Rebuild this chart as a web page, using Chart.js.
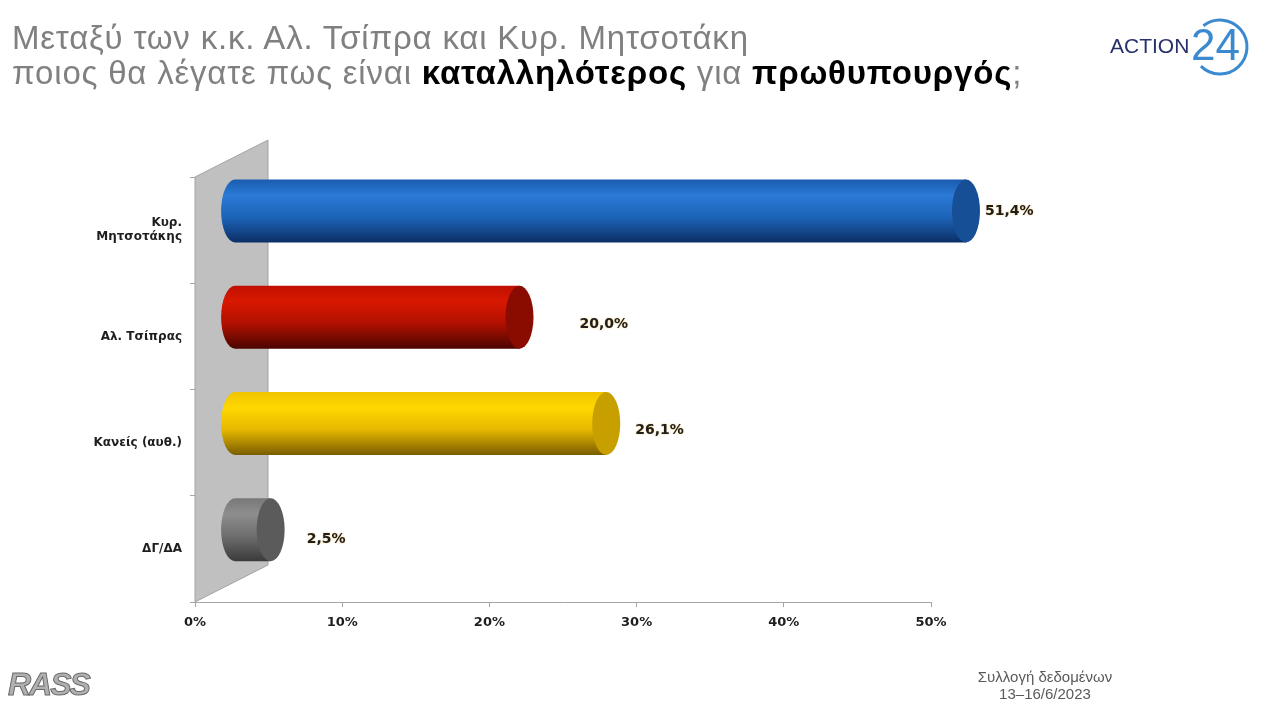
<!DOCTYPE html>
<html>
<head>
<meta charset="utf-8">
<script src="https://cdn.jsdelivr.net/npm/chart.js@4.4.1/dist/chart.umd.min.js"></script>
<style>
  html, body { margin: 0; padding: 0; background: #fff; }
  #wrap { position: relative; width: 1270px; height: 711px; overflow: hidden; }
  #chart { position: absolute; left: 0; top: 0; }
  #title { position: absolute; left: 12px; top: 20px; font-family: 'Liberation Sans', sans-serif;
           font-size: 33px; line-height: 35px; letter-spacing: 0.8px; color: #808080; white-space: nowrap; }
  #title b { color: #000; }
  #rass { position: absolute; left: 8px; top: 666px; font-family: 'Liberation Sans', sans-serif;
          font-style: italic; font-weight: bold; font-size: 32px; color: #b0b0b0;
          -webkit-text-stroke: 1px #6a6a6a; letter-spacing: -2px; }
  #foot { position: absolute; left: 955px; top: 668px; width: 180px; text-align: center;
          font-family: 'Liberation Sans', sans-serif; font-size: 15px; line-height: 17px; color: #5a5a5a; }
  #logo { position: absolute; left: 1095px; top: 12px; }
</style>
</head>
<body>
<div id="wrap">
  <canvas id="chart" width="1270" height="711"></canvas>
  <div id="title">
    <div>Μεταξύ των κ.κ. Αλ. Τσίπρα και Κυρ. Μητσοτάκη</div>
    <div>ποιος θα λέγατε πως είναι <b>καταλληλότερος</b> για <b>πρωθυπουργός</b>;</div>
  </div>
  <svg id="logo" width="170" height="72">
    <text x="15" y="41" font-family="Liberation Sans" font-size="21" fill="#28306e">ACTION</text>
    <text x="96" y="48" font-family="Liberation Sans" font-size="44" fill="#3b8ad0">24</text>
    <path d="M108.4 13.7 A27 27 0 1 1 105.9 54.1" stroke="#3b8ad0" stroke-width="3" fill="none"/>
  </svg>
  <div id="rass">RASS</div>
  <div id="foot">Συλλογή δεδομένων<br>13–16/6/2023</div>
</div>
<script>
const categories = [['Κυρ.', 'Μητσοτάκης'], 'Αλ. Τσίπρας', 'Κανείς (αυθ.)', 'ΔΓ/ΔΑ'];
const values = [51.4, 20.0, 26.1, 2.5];
const valueLabels = ['51,4%', '20,0%', '26,1%', '2,5%'];
const xTicks = [0, 10, 20, 30, 40, 50];

// cylinder shading per bar: [top, highlight, mid, bottom], end cap colour
const bodyColors = [
  ['#1a5cae', '#2a7ad6', '#1d64b8', '#0b2f66'],
  ['#c01000', '#d81800', '#b01000', '#4a0500'],
  ['#f0c400', '#ffd700', '#e6b800', '#7a5c00'],
  ['#787878', '#8e8e8e', '#6e6e6e', '#3a3a3a']
];
const capColors = ['#174f96', '#8a0c00', '#c7a000', '#5b5b5b'];
// small nudges for the value labels, as in the original slide
const labelDx = [5, 46, 15, 22];
const labelDy = [0, 7, 7, 10];

const capRx = 14;
const wallDx = 73, wallDy = -37;

const cylinders = {
  id: 'cylinders',
  beforeDatasetsDraw(chart) {
    const { ctx, chartArea: a } = chart;
    ctx.save();
    ctx.beginPath();
    ctx.moveTo(a.left, a.top);
    ctx.lineTo(a.left + wallDx, a.top + wallDy);
    ctx.lineTo(a.left + wallDx, a.bottom + wallDy);
    ctx.lineTo(a.left, a.bottom);
    ctx.closePath();
    ctx.fillStyle = '#c0c0c0';
    ctx.fill();
    ctx.strokeStyle = '#a4a4a4';
    ctx.lineWidth = 1;
    ctx.stroke();
    ctx.restore();
  },
  afterDatasetsDraw(chart) {
    const ctx = chart.ctx;
    const meta = chart.getDatasetMeta(0);
    meta.data.forEach((bar, i) => {
      const { x, y, base, height } = bar.getProps(['x', 'y', 'base', 'height'], true);
      const top = y - height / 2, bot = y + height / 2, ry = height / 2;
      const c = bodyColors[i];
      const grad = ctx.createLinearGradient(0, top, 0, bot);
      grad.addColorStop(0, c[0]);
      grad.addColorStop(0.25, c[1]);
      grad.addColorStop(0.6, c[2]);
      grad.addColorStop(1, c[3]);

      ctx.save();
      ctx.beginPath();
      ctx.moveTo(base, top);
      ctx.lineTo(x, top);
      ctx.lineTo(x, bot);
      ctx.lineTo(base, bot);
      ctx.ellipse(base, y, capRx, ry, 0, Math.PI / 2, Math.PI * 1.5);
      ctx.closePath();
      ctx.fillStyle = grad;
      ctx.fill();

      ctx.beginPath();
      ctx.ellipse(x, y, capRx, ry, 0, 0, Math.PI * 2);
      ctx.fillStyle = capColors[i];
      ctx.fill();

      ctx.font = 'bold 14px "DejaVu Sans"';
      ctx.textAlign = 'left';
      ctx.textBaseline = 'middle';
      ctx.shadowColor = 'rgba(240,160,0,0.55)';
      ctx.shadowBlur = 2;
      ctx.fillStyle = '#1e1e1e';
      ctx.fillText(valueLabels[i], x + capRx + labelDx[i], y + labelDy[i]);
      ctx.restore();
    });
  }
};

const ctx = document.getElementById('chart').getContext('2d');
new Chart(ctx, {
  type: 'bar',
  data: {
    labels: categories,
    datasets: [{
      data: values.map((v, i) => ({ x: v, y: i })),
      xAxisID: 'xb',
      yAxisID: 'yb',
      backgroundColor: 'rgba(0,0,0,0)',
      borderWidth: 0,
      barThickness: 63
    }]
  },
  options: {
    indexAxis: 'y',
    responsive: false,
    animation: false,
    layout: { padding: { left: 0, top: 177, right: 339, bottom: 69 } },
    plugins: { legend: { display: false }, tooltip: { enabled: false } },
    scales: {
      x: {
        type: 'linear', axis: 'x', position: 'bottom',
        min: xTicks[0], max: xTicks[xTicks.length - 1],
        afterBuildTicks: s => { s.ticks = xTicks.map(v => ({ value: v })); },
        afterFit: s => { s.height = 40; },
        grid: { drawOnChartArea: false, tickLength: 5, color: '#a6a6a6' },
        border: { color: '#a6a6a6' },
        ticks: { color: '#1e1e1e', padding: 8, font: { family: 'DejaVu Sans', size: 13, weight: 'bold' },
                 callback: v => v + '%' }
      },
      y: {
        type: 'category', axis: 'y', position: 'left',
        afterFit: s => { s.width = 195; },
        grid: { drawOnChartArea: false, offset: true, tickLength: 5, color: '#a6a6a6' },
        border: { color: '#a6a6a6' },
        ticks: { color: '#1e1e1e', padding: 8, font: { family: 'DejaVu Sans', size: 12, weight: 'bold' } }
      },
      xb: { type: 'linear', axis: 'x', display: false, offset: false, min: -2.82, max: 48.94 },
      yb: { type: 'linear', axis: 'y', display: false, offset: false, reverse: true, min: -0.32, max: 3.68 }
    }
  },
  plugins: [cylinders]
});
</script>
</body>
</html>
